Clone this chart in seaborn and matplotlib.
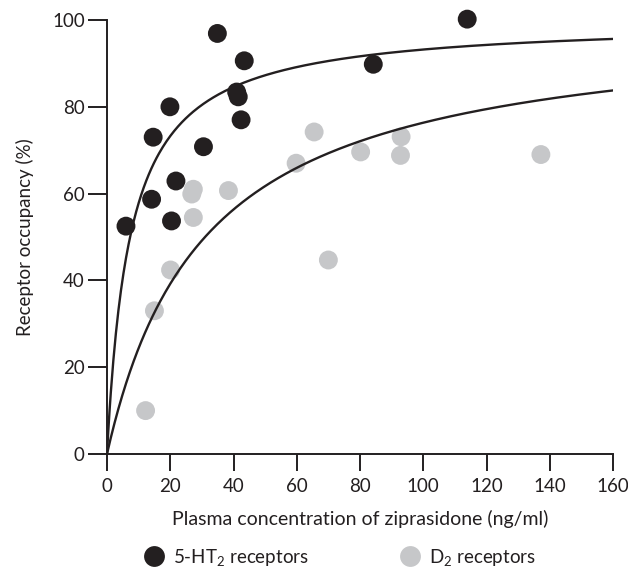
import numpy as np
import pandas as pd
import matplotlib
matplotlib.use("Agg")
import matplotlib.pyplot as plt
import seaborn as sns
from matplotlib.lines import Line2D

# ---- data ----
ht2_conc = [6.0, 14.1, 14.6, 19.9, 20.4, 21.8, 30.5, 34.9, 41.0, 41.5, 42.4, 43.4, 84.2, 113.9]
ht2_occ = [52.5, 58.7, 73.0, 80.0, 53.7, 62.9, 70.8, 96.9, 83.4, 82.3, 77.0, 90.6, 89.8, 100.2]

d2_conc = [12.2, 15.0, 20.1, 26.8, 27.3, 27.3, 38.4, 59.8, 65.5, 70.0, 80.2, 92.8, 93.0, 137.2]
d2_occ = [10.0, 33.0, 42.4, 59.9, 61.0, 54.5, 60.7, 67.0, 74.2, 44.7, 69.6, 68.8, 73.1, 69.0]

# Emax fitted curves: occupancy = EMAX * C / (EC50 + C)
HT2_EMAX, HT2_EC50 = 100.0, 7.3
D2_EMAX, D2_EC50 = 100.0, 31.0

x_ticks = [0, 20, 40, 60, 80, 100, 120, 140, 160]
y_ticks = [0, 20, 40, 60, 80, 100]
labels = ["5-HT$_2$ receptors", "D$_2$ receptors"]

BLACK = "#231f20"
GRAY = "#c6c7c9"
FS = 13.5

sns.set_style("white")
plt.rcParams["font.family"] = ["Lato", "DejaVu Sans"]
plt.rcParams["mathtext.fontset"] = "custom"
plt.rcParams["mathtext.rm"] = "Lato"
plt.rcParams["mathtext.it"] = "Lato"

fig = plt.figure(figsize=(6.28, 5.74), dpi=100)
ax = fig.add_axes([107 / 628, 1 - 454 / 574, (613 - 107) / 628, (454 - 20) / 574])

df = pd.concat([
    pd.DataFrame({"conc": ht2_conc, "occ": ht2_occ, "rec": labels[0]}),
    pd.DataFrame({"conc": d2_conc, "occ": d2_occ, "rec": labels[1]}),
])

cx = np.linspace(0, 160, 400)
curves = pd.concat([
    pd.DataFrame({"conc": cx, "occ": HT2_EMAX * cx / (HT2_EC50 + cx), "rec": labels[0]}),
    pd.DataFrame({"conc": cx, "occ": D2_EMAX * cx / (D2_EC50 + cx), "rec": labels[1]}),
])

sns.scatterplot(data=df, x="conc", y="occ", hue="rec", palette=[BLACK, GRAY],
                s=185, edgecolor="none", linewidth=0, ax=ax, legend=False,
                clip_on=False, zorder=2)
sns.lineplot(data=curves, x="conc", y="occ", units="rec", estimator=None,
             color=BLACK, linewidth=1.7, ax=ax, legend=False, zorder=3)

ax.set_xlim(0, 160)
ax.set_ylim(0, 100)
ax.set_xticks(x_ticks)
ax.set_yticks(y_ticks)
for s in ["top", "right"]:
    ax.spines[s].set_visible(False)
for s in ["left", "bottom"]:
    ax.spines[s].set_color(BLACK)
    ax.spines[s].set_linewidth(1.4)
ax.tick_params(axis="x", direction="out", length=12, width=1.4, color=BLACK,
               pad=5, labelsize=FS, labelcolor=BLACK, bottom=True)
ax.tick_params(axis="y", direction="out", length=14, width=1.4, color=BLACK,
               pad=2, labelsize=FS, labelcolor=BLACK, left=True)
ax.set_xlabel("Plasma concentration of ziprasidone (ng/ml)", fontsize=14,
              color=BLACK, labelpad=11)
ax.set_ylabel("Receptor occupancy (%)", fontsize=FS, color=BLACK, labelpad=13)

handles = [Line2D([], [], marker="o", linestyle="none", markersize=15,
                  markerfacecolor=c, markeredgecolor="none") for c in [BLACK, GRAY]]
fig.legend(handles, labels, loc="center", bbox_to_anchor=(0.54, 1 - 557 / 574),
           ncol=2, frameon=False, fontsize=FS, columnspacing=4.8,
           handletextpad=0.4, handlelength=1.2, labelcolor=BLACK)

fig.savefig("out.png", dpi=100, facecolor="white")
